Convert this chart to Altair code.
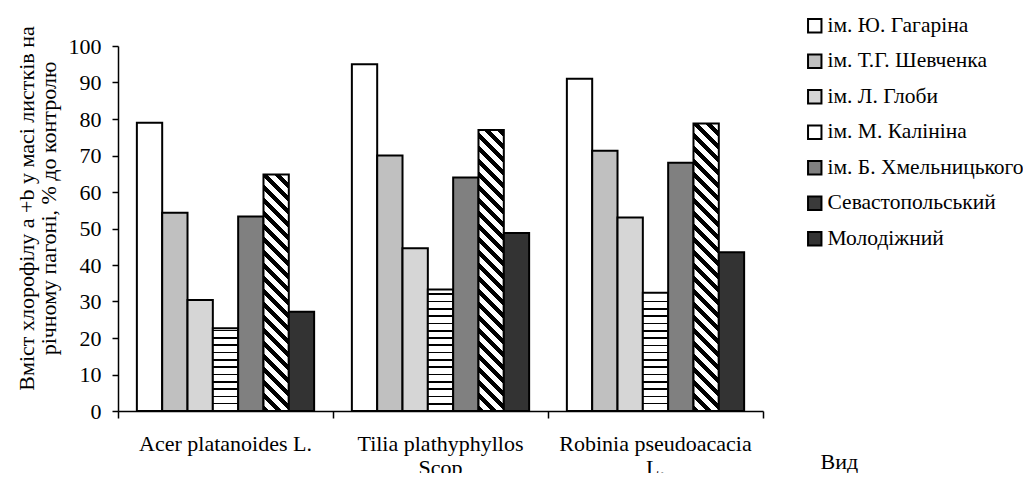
import json
import altair as alt
import pandas as pd

# ---------------- data ----------------
species = ["Acer platanoides L.", "Tilia plathyphyllos Scop", "Robinia pseudoacacia L."]
series = ["ім. Ю. Гагаріна", "ім. Т.Г. Шевченка", "ім. Л. Глоби", "ім. М. Калініна",
          "ім. Б. Хмельницького", "Севастопольський", "Молодіжний"]
v_gagarin = [79.0, 95.0, 91.0]
v_shevchenko = [54.3, 70.0, 71.3]
v_hloby = [30.4, 44.6, 53.0]
v_kalinin = [22.7, 33.3, 32.4]
v_khmel = [53.3, 64.0, 68.0]
v_sevast = [64.8, 77.0, 78.8]
v_molod = [27.2, 48.8, 43.5]
y_ticks = [0, 10, 20, 30, 40, 50, 60, 70, 80, 90, 100]
y_title = ["Вміст хлорофілу a +b у масі листків на", "річному пагоні, % до контролю"]
x_title = "Вид"

values = [v_gagarin, v_shevchenko, v_hloby, v_kalinin, v_khmel, v_sevast, v_molod]
rows = []
for s, vals in zip(series, values):
    for sp, v in zip(species, vals):
        rows.append({"species": sp, "series": s, "value": v})
df = pd.DataFrame(rows)

# ---------------- layout / style ----------------
FONT = "Liberation Serif"
FS = 22
W, H = 645, 365
PAD_IN = 0.1755
step = W / 3
bar_w = step * (1 - PAD_IN) / 7
ppu = H / 100.0

colors = ["#ffffff", "#c0c0c0", "#d6d6d6", "#ffffff", "#808080", "#3a3a3a", "#333333"]


def stripes(h, w=bar_w, period=13.0):
    total = w + h
    stops = []
    d = 0.0
    while d < total - 1e-9:
        a = d / total
        b = min((d + period / 2) / total, 1.0)
        c = min((d + period) / total, 1.0)
        stops += [{"offset": a, "color": "#000000"}, {"offset": b, "color": "#000000"},
                  {"offset": b, "color": "#ffffff"}, {"offset": c, "color": "#ffffff"}]
        d += period
    k = total / (w * w + h * h)
    return {"gradient": "linear", "x1": 0, "y1": 1, "x2": k * w, "y2": 1 - k * h, "stops": stops}


def bricks(h, period=7.3, lw=1.6):
    stops = [{"offset": 0, "color": "#ffffff"}]
    d = period
    while d + lw / 2 < h - 1:
        a = (d - lw / 2) / h
        b = (d + lw / 2) / h
        stops += [{"offset": a, "color": "#ffffff"}, {"offset": a, "color": "#000000"},
                  {"offset": b, "color": "#000000"}, {"offset": b, "color": "#ffffff"}]
        d += period
    stops.append({"offset": 1, "color": "#ffffff"})
    return {"gradient": "linear", "x1": 0, "y1": 1, "x2": 0, "y2": 0, "stops": stops}


conds = []
for sp, v in zip(species, v_sevast):
    conds.append({"test": f"datum.series === {json.dumps(series[5])} && datum.species === {json.dumps(sp)}",
                  "value": stripes(v * ppu)})
for sp, v in zip(species, v_kalinin):
    conds.append({"test": f"datum.series === {json.dumps(series[3])} && datum.species === {json.dumps(sp)}",
                  "value": bricks(v * ppu)})

wrap_expr = ("length(datum.label) > 20 ? [substring(datum.label, 0, lastindexof(datum.label, ' ')), "
             "substring(datum.label, lastindexof(datum.label, ' ') + 1)] : datum.label")

y_axis = alt.Axis(values=y_ticks, tickCount=11, grid=False, labelOverlap=False, labelFont=FONT,
                  labelFontSize=FS, labelColor="black", tickColor="black",
                  tickSize=6, tickWidth=1.5, domainColor="black", domainWidth=1.5,
                  labelPadding=11, title=y_title, titleFont=FONT, titleFontSize=FS,
                  titleFontWeight="normal", titleColor="black", titleAngle=270,
                  titleX=-102, titleY=162, titleAlign="center", titleBaseline="top",
                  titleLineHeight=22)
y_enc = alt.Y("value:Q", scale=alt.Scale(domain=[0, 100], nice=False), axis=y_axis)

bars = alt.Chart(df).mark_bar(stroke="black", strokeWidth=2, strokeJoin="miter").encode(
    x=alt.X("species:N", sort=species,
            scale=alt.Scale(paddingInner=PAD_IN, paddingOuter=PAD_IN / 2),
            axis=alt.Axis(orient="bottom", title=None, ticks=False, domain=False, labelAngle=0,
                          labelFont=FONT, labelFontSize=FS, labelColor="black",
                          labelPadding=22, labelExpr=wrap_expr, labelLineHeight=24,
                          labelBaseline="top", labelLimit=400)),
    xOffset=alt.XOffset("series:N", sort=series,
                        scale=alt.Scale(domain=series, paddingInner=0, paddingOuter=0)),
    y=y_enc,
    fill=alt.Fill("series:N", sort=series,
                  scale=alt.Scale(domain=series, range=colors),
                  legend=alt.Legend(orient="none", legendX=686, legendY=-31, title=None,
                                    symbolType="square", symbolSize=180,
                                    symbolStrokeColor="black", symbolStrokeWidth=2,
                                    labelFont=FONT, labelFontSize=21.5, labelColor="black",
                                    rowPadding=12.5, labelOffset=2, labelLimit=400),
                  condition=conds),
)

ticks_layer = alt.Chart(df).transform_calculate(
    pos=f"indexof({json.dumps(species)}, datum.species)"
).mark_point(opacity=0).encode(
    x=alt.X("pos:Q", scale=alt.Scale(domain=[0, 3], nice=False, zero=False),
            axis=alt.Axis(orient="bottom", values=[0, 1, 2, 3], labels=False, grid=False,
                          tickSize=7, tickColor="black", tickWidth=1.5, domainColor="black",
                          domainWidth=1.5, title=x_title, titleFont=FONT,
                          titleFontSize=FS, titleFontWeight="normal", titleColor="black",
                          titleX=702, titleY=57, titleAlign="left",
                          titleBaseline="alphabetic")),
    y=y_enc,
)

chart = alt.layer(bars, ticks_layer).resolve_scale(x="independent").properties(
    width=W, height=H,
    autosize=alt.AutoSizeParams(type="none"),
    padding={"left": 110, "top": 38, "right": 260, "bottom": 62},
    background="white",
).configure(font=FONT).configure_view(stroke=None)

chart.save("out.html", embed_options={"renderer": "svg", "actions": False})
